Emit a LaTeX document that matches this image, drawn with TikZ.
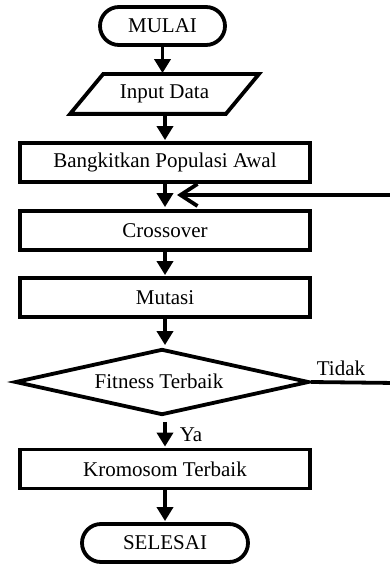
\documentclass[tikz,border=0pt]{standalone}
\usepackage{fontspec}
\setmainfont{Liberation Serif}
\usetikzlibrary{arrows.meta,shapes.geometric}
\begin{document}
\begin{tikzpicture}[x=1pt,y=-1pt,
  every node/.style={font=\fontsize{21}{25}\selectfont, inner sep=0pt},
  line width=3.8pt,
  term/.style={draw, rectangle, rounded corners=19pt, minimum height=38pt},
  procbox/.style={draw, rectangle, minimum width=290pt, minimum height=39pt},
  decision/.style={draw, diamond, minimum width=294pt, minimum height=66pt},
  flow/.style={-{Triangle[length=14pt,width=16pt]}},
  back/.style={-{Straight Barb[length=17pt,width=22pt]}}]
\useasboundingbox (0,0) rectangle (390,564);
\node[term, minimum width=125pt] (start) at (162.5,26) {MULAI};
\node[minimum width=185pt, minimum height=36pt] (in) at (164.5,94) {Input Data};
\draw ([xshift=33pt]in.north west) -- (in.north east) -- ([xshift=-33pt]in.south east) -- (in.south west) -- cycle;
\node[procbox] (init) at (165,162.5) {Bangkitkan Populasi Awal};
\node[procbox] (cross) at (165,230.5) {Crossover};
\node[procbox] (mut) at (165,297.5) {Mutasi};
\node[decision] (fit) at (162,382) {};
\node at (159,381) {Fitness Terbaik};
\node[procbox] (best) at (165,469) {Kromosom Terbaik};
\node[term, minimum width=166pt] (end) at (165,543) {SELESAI};
\node (tidak) at (341,368) {Tidak};
\node (ya) at (191,435) {Ya};
\coordinate (loopA) at (396,383);
\coordinate (loopB) at (396,195);
\coordinate (fbtip) at (177,195);
\draw[flow, shorten >=1pt] (start.south -| in.north) ++(-2,0) -- ([xshift=-2pt]in.north);
\draw[flow, shorten >=1pt] (in.south) ++(0.5,0) -- (init.north);
\draw[flow, shorten >=2pt] (init.south) -- (cross.north);
\draw[flow, shorten >=1pt] (cross.south) -- (mut.south |- cross.south) -- (mut.north);
\draw[flow, shorten >=2pt] (mut.south) -- (mut.south |- fit.north);
\draw[flow, shorten <=5pt, shorten >=1pt] (fit.south -| best.north) -- (best.north);
\draw[flow, shorten >=1pt] (best.south) -- (end.north);
\draw[back] (fit.east) -- (loopA) -- (loopB) -- (fbtip);
\end{tikzpicture}
\end{document}
